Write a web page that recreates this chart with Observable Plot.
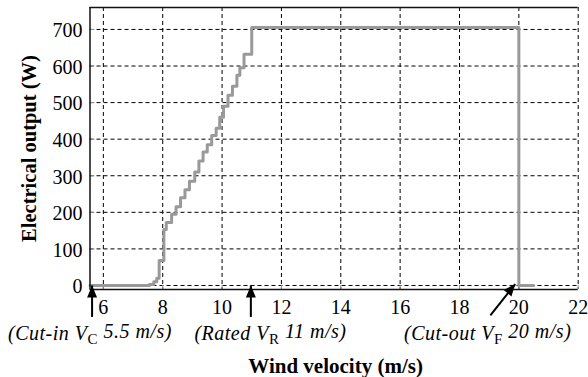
<!DOCTYPE html>
<html><head><meta charset="utf-8">
<script src="https://cdn.jsdelivr.net/npm/d3@7"></script>
<script src="https://cdn.jsdelivr.net/npm/@observablehq/plot@0.6"></script>
<style>
body{margin:0;background:#fff}
svg, svg text{font-family:"Liberation Serif","Times New Roman",serif}
</style>
</head><body><div id="chart"></div>
<script>
// Wind velocity (m/s) at which each step starts, and power level (W) held from there
const windSpeed = [5.55, 7.55, 7.7, 7.8, 7.88, 8.04, 8.12, 8.3, 8.45, 8.6, 8.75, 8.9, 9.08, 9.22, 9.36, 9.5, 9.65, 9.8, 9.92, 10.05, 10.2, 10.35, 10.5, 10.6, 10.74, 11.0, 20.0, 20.5];
const power     = [0,    3,    10,  20,  68,   153,  172,  195, 215,  240, 262,  285, 310,  340,  365,  385, 410,  430, 460,  490,   520,  545,   575,  595,  632,   705,  0,    0];

const xDomain = [5.55, 22];
const yDomain = [-11, 760];
const xTicks = [6, 8, 10, 12, 14, 16, 18, 20, 22];
const yTicks = [0, 100, 200, 300, 400, 500, 600, 700];

const xLabel = "Wind velocity (m/s)";
const yLabel = "Electrical output (W)";

const annotationText = ["(Cut-in V{C} 5.5 m/s)", "(Rated V{R} 11 m/s)", "(Cut-out V{F} 20 m/s)"];
const annotationX = [5.55, 11.63, 18.95];

const arrowTailX = [5.62, 10.97, 19.04];
const arrowTailY = [-86, -86, -82];
const arrowTipX  = [5.62, 10.97, 19.88];
const arrowTipY  = [0, 0, 4];
const arrowAngle = [0, 0, 40];

const curve = windSpeed.map((x, i) => ({x, y: power[i]}));
const annotations = annotationText.map((t, i) => ({t, x: annotationX[i]}));
const arrows = arrowTailX.map((x, i) => ({x1: x, y1: arrowTailY[i], x2: arrowTipX[i], y2: arrowTipY[i], a: arrowAngle[i]}));

const arrowHead = {draw(ctx) { ctx.moveTo(0, 0); ctx.lineTo(5, 12); ctx.lineTo(-5, 12); ctx.closePath(); }};
const serif = "Liberation Serif";

const chart = Plot.plot({
  width: 588, height: 377,
  marginLeft: 89.5, marginRight: 10.3, marginTop: 7, marginBottom: 88,
  x: {domain: xDomain},
  y: {domain: yDomain},
  style: {fontFamily: "'Liberation Serif', serif", background: "#fff"},
  marks: [
    Plot.gridX(xTicks, {stroke: "#000", strokeOpacity: 1, strokeDasharray: "4,3"}),
    Plot.gridY(yTicks, {stroke: "#000", strokeOpacity: 1, strokeDasharray: "4,3"}),
    Plot.axisX(xTicks, {tickSize: -4, stroke: "#999", tickFormat: () => "", label: null}),
    Plot.axisY(yTicks, {tickSize: -5, stroke: "#999", tickFormat: () => "", label: null}),
    Plot.text(xTicks, {x: d => d, text: d => String(d), frameAnchor: "bottom", lineAnchor: "middle", textAnchor: "middle", dy: 17.6, fontSize: 20, fontFamily: serif, fill: "#000"}),
    Plot.text(yTicks, {y: d => d, text: d => String(d), frameAnchor: "left", lineAnchor: "middle", textAnchor: "end", dx: -7.5, dy: 1.4, fontSize: 20, fontFamily: serif, fill: "#000"}),
    Plot.line(curve, {x: "x", y: "y", curve: "step-after", stroke: "#999", strokeWidth: 3}),
    Plot.ruleX([xDomain[0]], {stroke: "#111", strokeWidth: 1.5}),
    Plot.ruleY([yDomain[1]], {stroke: "#111", strokeWidth: 1.5}),
    Plot.ruleY([yDomain[0]], {stroke: "#111", strokeWidth: 1.5}),
    Plot.link(arrows, {x1: "x1", y1: "y1", x2: "x2", y2: "y2", stroke: "#000", strokeWidth: 2}),
    Plot.dot(arrows, {x: "x2", y: "y2", symbol: arrowHead, fill: "#000", stroke: null, rotate: "a", r: 5}),
    Plot.text(annotations, {x: "x", text: "t", frameAnchor: "bottom", lineAnchor: "middle", dy: 44, fontSize: 20, fontStyle: "italic", fontFamily: serif, fill: "#000"}),
    Plot.text([xLabel], {frameAnchor: "bottom", lineAnchor: "middle", textAnchor: "middle", dy: 76.6, dx: 1.5, fontSize: 21, fontWeight: "bold", fontFamily: serif, fill: "#000"}),
    Plot.text([yLabel], {frameAnchor: "left", lineAnchor: "middle", textAnchor: "middle", rotate: -90, dx: -61, fontSize: 20.5, fontWeight: "bold", fontFamily: serif, fill: "#000"})
  ]
});

// subscripts V{C} -> V with upright subscript C
d3.select(chart).selectAll("text").each(function() {
  const s = this.textContent;
  const m = s.match(/^(.*?)\{(.)\}(.*)$/);
  if (!m) return;
  const el = d3.select(this).attr("letter-spacing", "0.5px");
  el.text(null);
  el.append("tspan").text(m[1]);
  el.append("tspan").text(m[2]).attr("font-style", "normal").attr("font-size", 15).attr("dy", "0.3em");
  el.append("tspan").text(m[3]).attr("dy", "-0.3em");
});

document.getElementById("chart").appendChild(chart);
</script>
</body></html>
